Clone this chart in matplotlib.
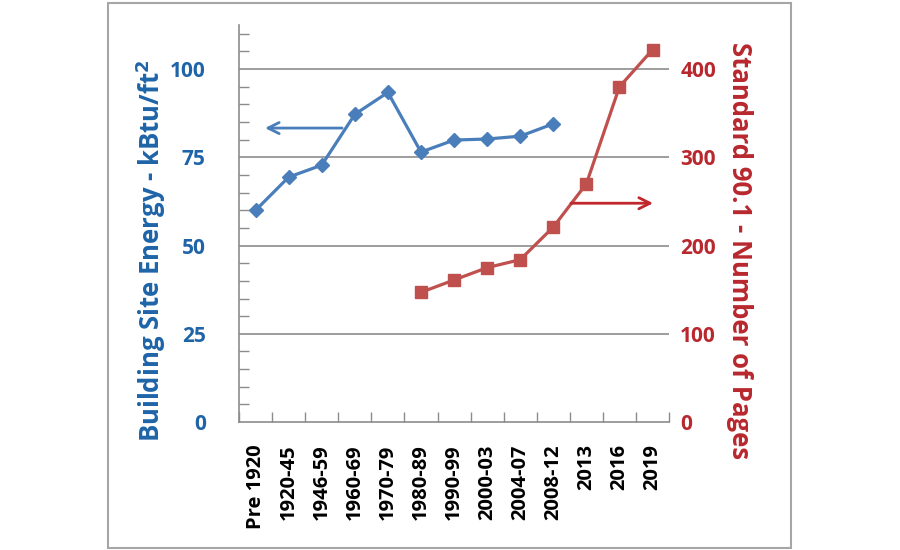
import numpy as np
import matplotlib.pyplot as plt
from matplotlib.patches import Rectangle

# Periods on the x axis
periods = ['Pre 1920', '1920-45', '1946-59', '1960-69', '1970-79', '1980-89',
           '1990-99', '2000-03', '2004-07', '2008-12', '2013', '2016', '2019']

# Building site energy (kBtu/ft2), left axis
site_energy = [60, 69.4, 72.8, 87.2, 93.4, 76.5, 79.9, 80.2, 81.0, 84.5,
               np.nan, np.nan, np.nan]

# Standard 90.1 page count, right axis
std_pages = [np.nan, np.nan, np.nan, np.nan, np.nan, 147, 161, 175, 184, 221,
             270, 380, 422]

blue_line = '#4A7EBB'
blue_text = '#1F64A8'
red_line = '#C0504D'
red_text = '#B8282E'
font = 'Open Sans'

fig = plt.figure(figsize=(9, 5.5), dpi=100)
fig.patches.append(Rectangle((0.12, 0.004), 0.759, 0.99, transform=fig.transFigure,
                             fill=False, edgecolor='#A6A6A6', linewidth=1.5))

ax = fig.add_axes([0.2656, 0.2327, 0.4778, 0.7218])
ax2 = ax.twinx()
x = np.arange(len(periods))

ax.plot(x, site_energy, color=blue_line, lw=2.3, marker='D', ms=7,
        mfc=blue_line, mec=blue_line, zorder=3)
ax2.plot(x, std_pages, color=red_line, lw=2.3, marker='s', ms=9,
         mfc=red_line, mec=red_line, zorder=3)

ax.set_xlim(-0.5, len(periods) - 0.5)
ax.set_ylim(0, 112.5)
ax2.set_ylim(0, 450)

# gridlines (left axis majors)
for v in [25, 50, 75, 100]:
    ax.axhline(v, color='#8C8C8C', lw=1.2, zorder=1)

ax.set_yticks([0, 25, 50, 75, 100])
ax.set_yticks(np.arange(5, 112, 5), minor=True)
ax.tick_params(axis='y', which='major', length=0, pad=24)
ax.tick_params(axis='y', which='minor', direction='in', length=7,
               color='#8C8C8C', width=1)
ax2.set_yticks([0, 100, 200, 300, 400])
ax2.tick_params(axis='y', length=0, pad=8)

ax.set_xticks(x)
ax.set_xticklabels(periods, rotation=90)
ax.set_xticks(np.arange(-0.5, len(periods)), minor=True)
ax.tick_params(axis='x', which='major', length=0, pad=16)
ax.tick_params(axis='x', which='minor', direction='in', length=7,
               color='#8C8C8C', width=1)

for lbl in ax.get_xticklabels():
    lbl.set_fontfamily(font)
    lbl.set_fontweight('bold')
    lbl.set_fontsize(14.5)
    lbl.set_color('black')
for lbl in ax.get_yticklabels():
    lbl.set_fontfamily(font)
    lbl.set_fontweight('bold')
    lbl.set_fontsize(15)
    lbl.set_color(blue_text)
for lbl in ax2.get_yticklabels():
    lbl.set_fontfamily(font)
    lbl.set_fontweight('bold')
    lbl.set_fontsize(15)
    lbl.set_color(red_text)

for a in (ax, ax2):
    a.spines['top'].set_visible(False)
    a.spines['right'].set_visible(False)
    a.patch.set_visible(False)
ax.spines['left'].set_color('#8C8C8C')
ax.spines['bottom'].set_color('#8C8C8C')
ax.spines['left'].set_linewidth(1.2)
ax.spines['bottom'].set_linewidth(1.2)
ax2.spines['left'].set_visible(False)
ax2.spines['bottom'].set_visible(False)

# direction arrows
ax.annotate('', xy=(0.2, 83.3), xytext=(2.7, 83.3),
            arrowprops=dict(arrowstyle='->,head_length=0.8,head_width=0.4',
                            color=blue_line, lw=2))
ax2.annotate('', xy=(12.1, 248), xytext=(9.45, 248),
             arrowprops=dict(arrowstyle='->,head_length=0.8,head_width=0.4',
                             color='#C0282D', lw=2))

fig.text(0.168, 0.545, 'Building Site Energy - kBtu/ft$^\\mathbf{2}$', rotation=90,
         ha='center', va='center', color=blue_text, fontsize=18.5,
         fontweight='bold', family=font)
fig.text(0.822, 0.545, 'Standard 90.1 - Number of Pages', rotation=-90,
         ha='center', va='center', color=red_text, fontsize=18.5,
         fontweight='bold', family=font)

fig.savefig('out.png', dpi=100)
